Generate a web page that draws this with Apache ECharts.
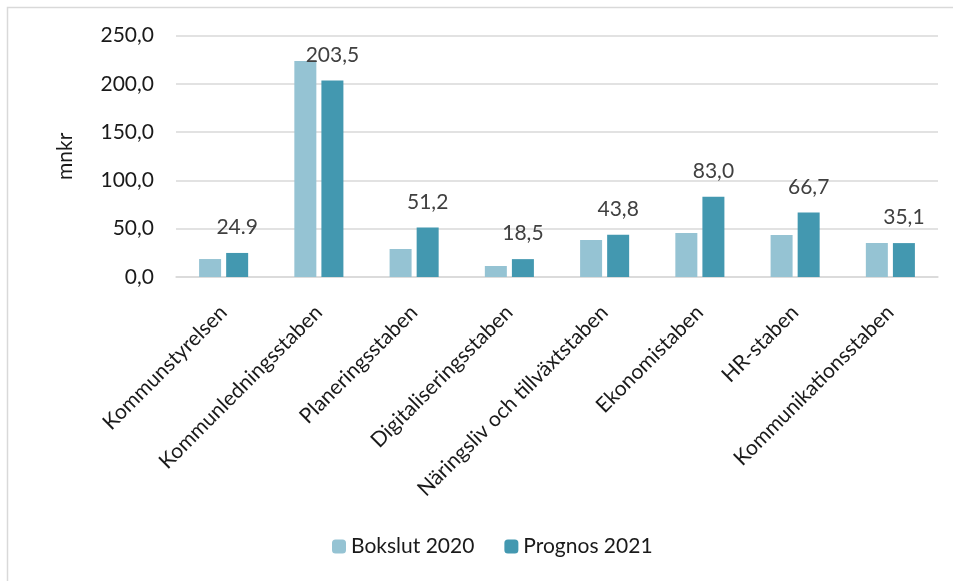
<!DOCTYPE html>
<html><head><meta charset="utf-8">
<script src="https://cdn.jsdelivr.net/npm/echarts@6/dist/echarts.min.js"></script>
<style>html,body{margin:0;padding:0;background:#fff}#c{width:953px;height:581px}</style>
</head><body><div id="c"></div>
<script>
const categories = ['Kommunstyrelsen','Kommunledningsstaben','Planeringsstaben','Digitaliseringsstaben','Näringsliv och tillväxtstaben','Ekonomistaben','HR-staben','Kommunikationsstaben'];
const bokslut2020 = [18.6, 223.6, 29.0, 11.4, 38.3, 45.5, 43.5, 35.2];
const prognos2021 = [24.9, 203.5, 51.2, 18.5, 43.8, 83.0, 66.7, 35.1];
const prognosLabels = ['24.9','203,5','51,2','18,5','43,8','83,0','66,7','35,1'];
const yTicks = [0, 50, 100, 150, 200, 250];

const FONT = 'Lato';
const FS = 21;
const chart = echarts.init(document.getElementById('c'), null, {renderer:'canvas'});
chart.setOption({
  animation: false,
  textStyle: {fontFamily: FONT},
  graphic: [{type:'polyline', shape:{points:[[7.5,581],[7.5,7.5],[953,7.5]]}, style:{stroke:'#d9d9d9', lineWidth:1.5, fill:null}}],
  grid: {left: 176, right: 15, top: 35.5, bottom: 304},
  legend: {
    bottom: 19, left: 327, itemWidth: 14, itemHeight: 14, itemGap: 30,
    textStyle: {fontSize: FS, color: '#1a1a1a', fontFamily: FONT},
    data: ['Bokslut 2020','Prognos 2021']
  },
  xAxis: {
    type: 'category', data: categories,
    axisLine: {lineStyle: {color: '#d9d9d9', width: 1.5}},
    axisTick: {show: false},
    axisLabel: {rotate: 45, fontSize: FS, color: '#1a1a1a', margin: 32, interval: 0, fontFamily: FONT}
  },
  yAxis: {
    type: 'value', min: yTicks[0], max: yTicks[yTicks.length-1], interval: 50,
    name: 'mnkr', nameLocation: 'middle', nameGap: 100, nameRotate: 90,
    nameTextStyle: {fontSize: FS, color: '#1a1a1a', fontFamily: FONT},
    axisLine: {show: false}, axisTick: {show: false},
    axisLabel: {fontSize: FS, color: '#1a1a1a', margin: 22, fontFamily: FONT,
      formatter: v => v.toFixed(1).replace('.', ',')},
    splitLine: {lineStyle: {color: '#d9d9d9', width: 1.5}}
  },
  series: [
    {name: 'Bokslut 2020', type: 'bar', data: bokslut2020, barWidth: 22, barGap: '23%',
      itemStyle: {color: '#95c3d3'}},
    {name: 'Prognos 2021', type: 'bar', data: prognos2021, barWidth: 22,
      itemStyle: {color: '#4398b0'},
      label: {show: true, position: 'top', distance: 15, fontSize: FS, color: '#404040', fontFamily: FONT,
        formatter: p => prognosLabels[p.dataIndex]}}
  ]
});
</script></body></html>
